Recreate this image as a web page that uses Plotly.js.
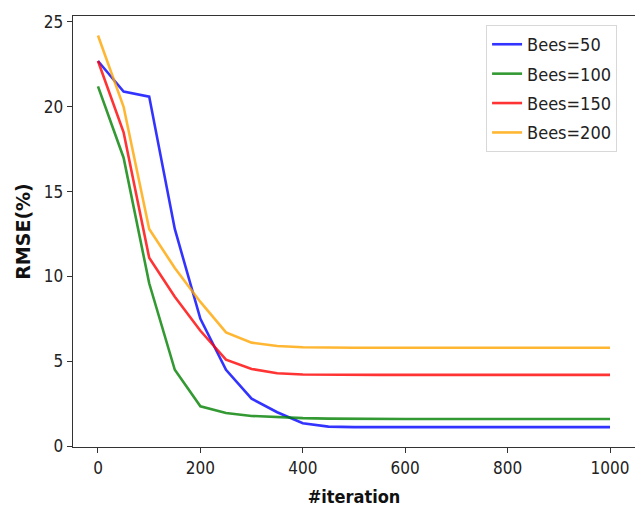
<!DOCTYPE html>
<html>
<head>
<meta charset="utf-8">
<script src="https://cdn.plot.ly/plotly-3.0.1.min.js"></script>
<style>
  html, body { margin: 0; padding: 0; background: #ffffff; }
  #chart { width: 635px; height: 507px; }
</style>
</head>
<body>
<div id="chart"></div>
<script>
// Iteration checkpoints (every 50 iterations)
const iterations = [0, 50, 100, 150, 200, 250, 300, 350, 400, 450, 500,
                    550, 600, 650, 700, 750, 800, 850, 900, 950, 1000];

// RMSE (%) for each colony size
const bees50  = [22.7, 20.9, 20.6, 12.8, 7.5, 4.5, 2.8, 2.0, 1.35, 1.15, 1.12,
                 1.12, 1.12, 1.12, 1.12, 1.12, 1.12, 1.12, 1.12, 1.12, 1.12];
const bees100 = [21.2, 17.0, 9.6, 4.5, 2.35, 1.95, 1.78, 1.7, 1.65, 1.62, 1.6,
                 1.6, 1.6, 1.6, 1.6, 1.6, 1.6, 1.6, 1.6, 1.6, 1.6];
const bees150 = [22.7, 18.5, 11.1, 8.8, 6.8, 5.1, 4.55, 4.3, 4.22, 4.2, 4.2,
                 4.2, 4.2, 4.2, 4.2, 4.2, 4.2, 4.2, 4.2, 4.2, 4.2];
const bees200 = [24.2, 20.0, 12.8, 10.5, 8.5, 6.7, 6.1, 5.9, 5.83, 5.8, 5.8,
                 5.8, 5.8, 5.8, 5.8, 5.8, 5.8, 5.8, 5.8, 5.8, 5.8];

const seriesNames = ["Bees=50", "Bees=100", "Bees=150", "Bees=200"];
const seriesValues = [bees50, bees100, bees150, bees200];
const seriesColors = ["#0000ff", "#008000", "#ff0000", "#ffa500"];

const fontFamily = "'DejaVu Sans Condensed', 'DejaVu Sans', sans-serif";
const wideFamily = "'DejaVu Sans', sans-serif";

const traces = seriesValues.map((vals, i) => ({
  x: iterations,
  y: vals,
  type: "scatter",
  mode: "lines",
  name: seriesNames[i],
  legendgroup: "g" + i,
  opacity: 0.8,
  line: { color: seriesColors[i], width: 2.6 }
}));

const layout = {
  width: 635,
  height: 507,
  margin: { l: 73, r: 0, t: 16, b: 60 },
  paper_bgcolor: "#ffffff",
  plot_bgcolor: "#ffffff",
  font: { family: fontFamily, size: 17, color: "#222222" },
  showlegend: true,
  legend: {
    x: 0.735, y: 0.979, xanchor: "left", yanchor: "top",
    bgcolor: "#ffffff", bordercolor: "#d8d8d8", borderwidth: 1,
    font: { family: fontFamily, size: 18, color: "#222222" },
    traceorder: "grouped", tracegroupgap: 3, itemwidth: 30
  },
  xaxis: {
    range: [-48.8, 1048.8],
    tickvals: [0, 200, 400, 600, 800, 1000],
    ticks: "outside", ticklen: 5, tickcolor: "#333333",
    showline: true, mirror: true, linecolor: "#333333", linewidth: 1.3,
    showgrid: false, zeroline: false,
    tickfont: { family: fontFamily, size: 17, color: "#222222" },
    title: { text: "<b>#iteration</b>", font: { family: fontFamily, size: 18, color: "#111111" }, standoff: 14 }
  },
  yaxis: {
    range: [-0.05, 25.35],
    tickvals: [0, 5, 10, 15, 20, 25],
    ticks: "outside", ticklen: 5, tickcolor: "#333333",
    showline: true, mirror: true, linecolor: "#333333", linewidth: 1.3,
    showgrid: false, zeroline: false,
    tickfont: { family: fontFamily, size: 17, color: "#222222" },
    title: { text: "<b>RMSE(%)</b>", font: { family: wideFamily, size: 19, color: "#111111" }, standoff: 8 }
  }
};

Plotly.newPlot("chart", traces, layout, { displayModeBar: false, staticPlot: true });
</script>
</body>
</html>
